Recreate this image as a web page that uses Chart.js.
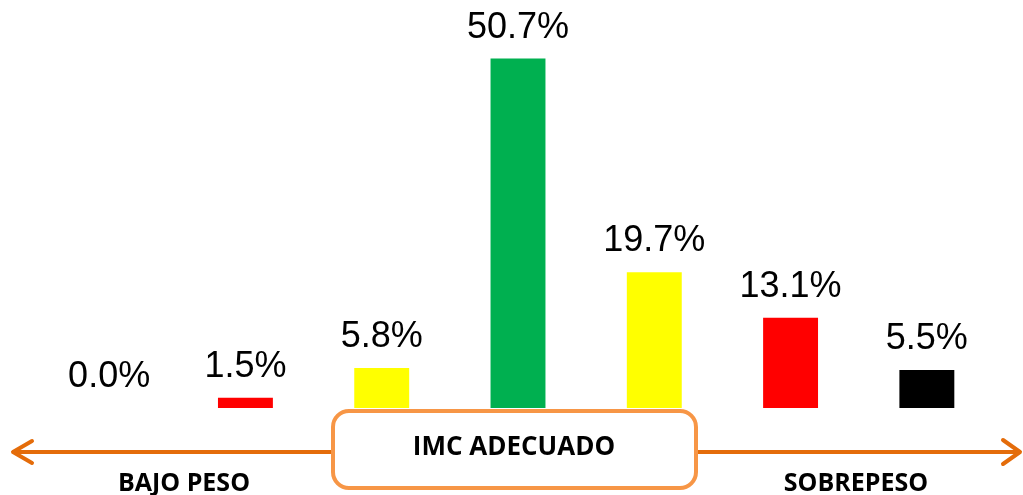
<!DOCTYPE html>
<html>
<head>
<meta charset="utf-8">
<script src="https://cdn.jsdelivr.net/npm/chart.js@4.4.1/dist/chart.umd.min.js"></script>
<style>
  html, body { margin: 0; padding: 0; background: #fff; }
  #wrap { width: 1023px; height: 495px; position: relative; }
</style>
</head>
<body>
<div id="wrap"><canvas id="imc"></canvas></div>
<script>
// porcentaje de alumnos por categoría de IMC
var categorias = ['Delgadez severa', 'Delgadez moderada', 'Delgadez leve', 'Normal', 'Sobrepeso', 'Obesidad I', 'Obesidad II'];
var porcentajes = [0.0, 1.5, 5.8, 50.7, 19.7, 13.1, 5.5];
var colores = ['#FF0000', '#FF0000', '#FFFF00', '#00B050', '#FFFF00', '#FF0000', '#000000'];
var grupos = ['BAJO PESO', 'IMC ADECUADO', 'SOBREPESO'];

// etiqueta con el valor encima de cada barra
var etiquetas = {
    id: 'etiquetas',
    afterDatasetsDraw: function(chart) {
        var ctx = chart.ctx;
        var meta = chart.getDatasetMeta(0);
        ctx.save();
        ctx.font = '36px "Liberation Sans", Arial, sans-serif';
        ctx.fillStyle = '#000';
        ctx.textAlign = 'center';
        ctx.textBaseline = 'alphabetic';
        meta.data.forEach(function(bar, i) {
            ctx.fillText(porcentajes[i].toFixed(1) + '%', bar.x, bar.y - 21);
        });
        ctx.restore();
    }
};

// eje naranja con flechas y recuadro central
var ejeGrupos = {
    id: 'ejeGrupos',
    afterDraw: function(chart) {
        var ctx = chart.ctx;
        var w = chart.width;
        var y = 452;
        ctx.save();
        ctx.strokeStyle = '#E46C0A';
        ctx.lineWidth = 4;
        ctx.lineCap = 'round';
        ctx.lineJoin = 'round';

        ctx.beginPath();
        ctx.moveTo(14, y);
        ctx.lineTo(w - 4, y);
        ctx.stroke();

        ctx.beginPath();
        ctx.moveTo(32, y - 11);
        ctx.lineTo(13, y);
        ctx.lineTo(32, y + 11);
        ctx.stroke();

        ctx.beginPath();
        ctx.moveTo(w - 20, y - 12);
        ctx.lineTo(w - 3, y);
        ctx.lineTo(w - 20, y + 12);
        ctx.stroke();

        // recuadro
        ctx.beginPath();
        ctx.roundRect(333, 411, 363, 77, 16);
        ctx.fillStyle = '#fff';
        ctx.fill();
        ctx.strokeStyle = '#F79646';
        ctx.stroke();

        ctx.fillStyle = '#000';
        ctx.textAlign = 'center';
        ctx.textBaseline = 'alphabetic';
        ctx.font = 'bold 26px "Open Sans", sans-serif';
        ctx.fillText(grupos[1], 514, 455);
        ctx.font = 'bold 25px "Open Sans", sans-serif';
        ctx.fillText(grupos[0], 184, 491);
        ctx.fillText(grupos[2], 856, 491);
        ctx.restore();
    }
};

new Chart(document.getElementById('imc'), {
    type: 'bar',
    data: {
        labels: categorias,
        datasets: [{
            data: porcentajes,
            backgroundColor: colores,
            borderWidth: 0,
            barPercentage: 0.403,
            categoryPercentage: 1
        }]
    },
    options: {
        responsive: true,
        maintainAspectRatio: false,
        animation: false,
        layout: { padding: { top: 22, bottom: 87, left: 41, right: 28 } },
        plugins: {
            legend: { display: false },
            tooltip: { enabled: false }
        },
        scales: {
            x: { display: false },
            y: { display: false, min: 0, max: 56 }
        }
    },
    plugins: [etiquetas, ejeGrupos]
});
</script>
</body>
</html>
